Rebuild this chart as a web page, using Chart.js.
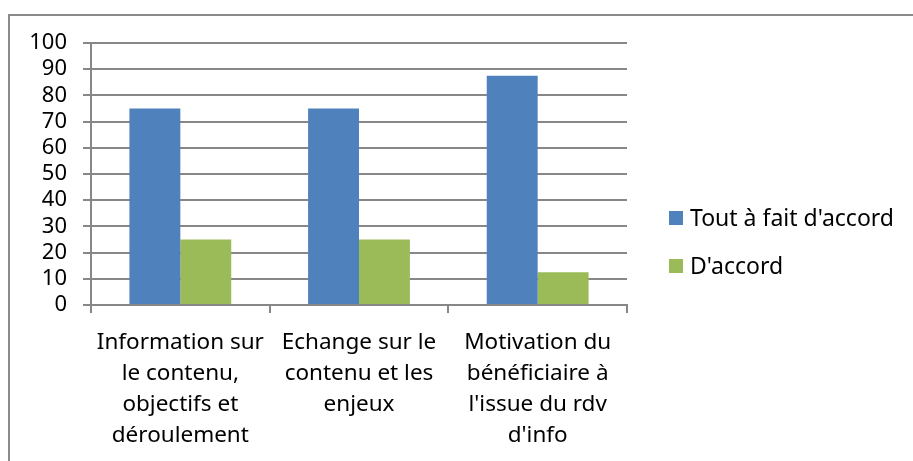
<!DOCTYPE html>
<html>
<head>
<meta charset="utf-8">
<script src="https://cdn.jsdelivr.net/npm/chart.js@4.4.1/dist/chart.umd.min.js"></script>
<style>
  html, body { margin: 0; padding: 0; background: #fff; overflow: hidden; }
  #frame {
    position: absolute; left: 8px; top: 14px;
    width: 1000px; height: 1000px;
    border: 2px solid #8a8a8a; box-sizing: border-box;
  }
  #wrap { position: absolute; left: 0; top: 0; width: 913px; height: 461px; }
</style>
</head>
<body>
<div id="frame"></div>
<div id="wrap"><canvas id="chart" width="913" height="461"></canvas></div>
<script>
// categories (multi-line labels as in the original)
const categories = [
  ["Information sur", "le contenu,", "objectifs et", "déroulement"],
  ["Echange sur le", "contenu et les", "enjeux"],
  ["Motivation du", "bénéficiaire à", "l'issue du rdv", "d'info"]
];
const seriesNames = ["Tout à fait d'accord", "D'accord"];
const toutAFait = [75, 75, 87.5];
const dAccord = [25, 25, 12.5];
const yMin = 0, yMax = 100, yStep = 10;

const FONT = "'Noto Sans', sans-serif";
const GRID = "#878787";

// Legend drawn beside the plot, Excel style (built-in one is capped in width)
const sideLegend = {
  id: "sideLegend",
  afterDraw(chart) {
    const ctx = chart.ctx;
    const x = chart.chartArea.right + 42;
    let y = 218;
    ctx.save();
    ctx.font = "23px " + FONT;
    ctx.textBaseline = "middle";
    ctx.textAlign = "left";
    chart.data.datasets.forEach(ds => {
      ctx.fillStyle = ds.backgroundColor;
      ctx.fillRect(x, y - 7, 14, 14);
      ctx.fillStyle = "#000";
      ctx.fillText(ds.label, x + 21, y + 1);
      y += 48;
    });
    ctx.restore();
  }
};

new Chart(document.getElementById("chart"), {
  type: "bar",
  data: {
    labels: categories,
    datasets: [
      { label: seriesNames[0], data: toutAFait, backgroundColor: "#4f81bd", borderWidth: 0 },
      { label: seriesNames[1], data: dAccord, backgroundColor: "#9bbb59", borderWidth: 0 }
    ]
  },
  options: {
    responsive: false,
    animation: false,
    layout: { padding: { top: 43, left: 10, bottom: 0, right: 913 - 627 } },
    categoryPercentage: 0.57,
    barPercentage: 1,
    plugins: {
      tooltip: { enabled: false },
      legend: { display: false }
    },
    scales: {
      x: {
        grid: { drawOnChartArea: false, drawTicks: true, tickLength: 8, color: GRID, lineWidth: 2, offset: true },
        border: { color: GRID, width: 2 },
        ticks: {
          color: "#000", padding: 14, maxRotation: 0, autoSkip: false,
          font: { family: FONT, size: 22.5, lineHeight: 1.38 }
        },
        afterFit: s => { s.height = 461 - 305; }
      },
      y: {
        min: yMin, max: yMax,
        grid: { color: GRID, lineWidth: 2, tickLength: 8 },
        border: { color: GRID, width: 2 },
        ticks: {
          stepSize: yStep, color: "#000", padding: 16, autoSkip: false,
          font: { family: FONT, size: 22 }
        },
        afterFit: s => { s.width = 91 - 10; }
      }
    }
  },
  plugins: [sideLegend]
});
</script>
</body>
</html>
